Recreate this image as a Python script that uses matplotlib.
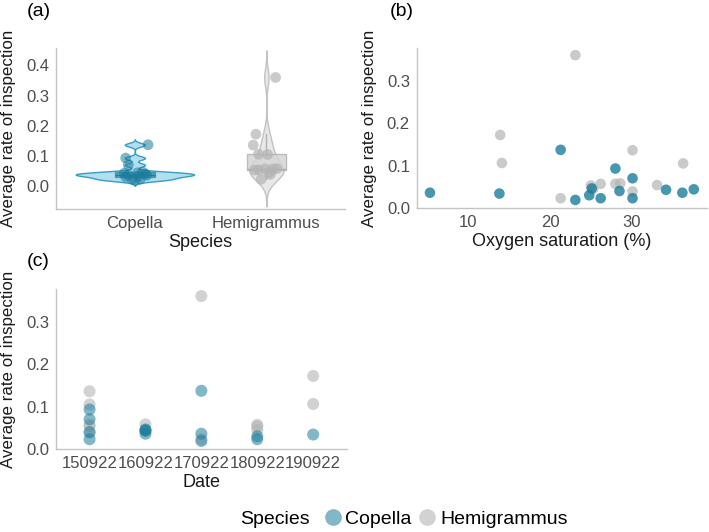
import numpy as np
import matplotlib
matplotlib.use("Agg")
import matplotlib.pyplot as plt
from matplotlib.lines import Line2D

plt.rcParams['font.family'] = ['Liberation Sans', 'DejaVu Sans']

# data
# Copella
oxygen_cop = [5.3, 13.8, 21.3, 23.1, 24.8, 25.1, 26.2, 28.0, 28.5, 30.1, 30.1, 34.2, 36.2, 37.6]
rate_cop = [0.036, 0.034, 0.137, 0.019, 0.030, 0.046, 0.023, 0.093, 0.040, 0.070, 0.023, 0.043, 0.036, 0.044]
date_cop = ['170922', '190922', '170922', '170922', '180922', '160922', '180922',
            '150922', '150922', '150922', '150922', '160922', '160922', '160922']
jitter_cop = [-0.05, 0.03, 0.10, 0.0, -0.07, 0.06, -0.02, -0.07, 0.08, -0.05, 0.04, -0.08, 0.09, 0.02]
# Hemigrammus
oxygen_hem = [13.9, 14.1, 21.3, 23.1, 25.0, 25.3, 26.2, 28.0, 28.6, 30.1, 30.1, 33.1, 36.3]
rate_hem = [0.172, 0.106, 0.023, 0.360, 0.053, 0.045, 0.057, 0.057, 0.058, 0.136, 0.039, 0.054, 0.105]
date_hem = ['190922', '190922', '170922', '170922', '180922', '180922', '180922',
            '150922', '160922', '150922', '150922', '150922', '150922']
jitter_hem = [-0.08, -0.06, -0.04, 0.07, -0.09, 0.02, 0.05, -0.01, 0.08, -0.10, 0.03, -0.06, 0.01]

species = ['Copella', 'Hemigrammus']
dates = ['150922', '160922', '170922', '180922', '190922']

COP = '#1c7c9c'
HEM = '#b4b4b4'
TICK_C = '#4d4d4d'
SPINE_C = '#c4c4c4'


def kde(vals, bw, grid):
    vals = np.asarray(vals)
    z = (grid[:, None] - vals[None, :]) / bw
    return np.exp(-0.5 * z ** 2).sum(1) / (len(vals) * bw * np.sqrt(2 * np.pi))


def style(ax):
    for s in ['top', 'right']:
        ax.spines[s].set_visible(False)
    for s in ['left', 'bottom']:
        ax.spines[s].set_color(SPINE_C)
        ax.spines[s].set_linewidth(1.0)
    ax.tick_params(length=0, labelsize=12, labelcolor=TICK_C, pad=5)
    ax.set_ylabel('Average rate of inspection', fontsize=12.2, color='#1a1a1a', labelpad=7)


fig = plt.figure(figsize=(7.09, 5.32), dpi=100)
ax_a = fig.add_axes([0.079, 0.607, 0.408, 0.303])
ax_b = fig.add_axes([0.588, 0.609, 0.409, 0.301])
ax_c = fig.add_axes([0.079, 0.156, 0.410, 0.301])

# (a) violins + boxes + jittered points
bws = [0.006, 0.030]
groups = [rate_cop, rate_hem]
fills = [('#a9dcee', '#2596bd'), ('#e6e6e6', '#bdbdbd')]
dens = []
grids = []
for vals, bw in zip(groups, bws):
    g = np.linspace(min(vals) - 3 * bw, max(vals) + 3 * bw, 512)
    grids.append(g)
    dens.append(kde(vals, bw, g))
k = 0.45 / dens[0].max()
for i, (g, d) in enumerate(zip(grids, dens)):
    xc = i + 1
    fc, ec = fills[i]
    ax_a.fill_betweenx(g, xc - d * k, xc + d * k, facecolor=fc, edgecolor=ec,
                       linewidth=1.0, alpha=0.9, zorder=1)

bp = ax_a.boxplot(groups, positions=[1, 2], widths=0.3, patch_artist=True,
                  showfliers=False, showcaps=False, zorder=2)
box_cols = [('#1c7c9c', '#1c7c9c'), ('#d4d4d4', '#b0b0b0')]
for i, patch in enumerate(bp['boxes']):
    patch.set_facecolor(box_cols[i][0])
    patch.set_alpha(0.6 if i == 0 else 0.8)
    patch.set_edgecolor(box_cols[i][1])
for i, line in enumerate(bp['medians']):
    line.set_color(box_cols[i][1])
for i, line in enumerate(bp['whiskers']):
    line.set_color(box_cols[i // 2][1])

ax_a.scatter(np.array(jitter_cop) + 1, rate_cop, s=60, color=COP, alpha=0.55,
             edgecolors='none', zorder=3)
ax_a.scatter(np.array(jitter_hem) + 2, rate_hem, s=60, color=HEM, alpha=0.7,
             edgecolors='none', zorder=3)
ax_a.set_xlim(0.4, 2.6)
ax_a.set_ylim(-0.076, 0.458)
ax_a.set_xticks([1, 2])
ax_a.set_xticklabels(species)
ax_a.set_yticks([0.0, 0.1, 0.2, 0.3, 0.4])
ax_a.set_xlabel('Species', fontsize=13, color='#1a1a1a', labelpad=2)
style(ax_a)

# (b) oxygen saturation
ax_b.scatter(oxygen_hem, rate_hem, s=58, color=HEM, alpha=0.7, edgecolors='none')
ax_b.scatter(oxygen_cop, rate_cop, s=58, color=COP, alpha=0.8, edgecolors='none')
ax_b.set_xlim(3.7, 39.2)
ax_b.set_ylim(0.002, 0.377)
ax_b.set_xticks([10, 20, 30])
ax_b.set_yticks([0.0, 0.1, 0.2, 0.3])
ax_b.set_xlabel('Oxygen saturation (%)', fontsize=13, color='#1a1a1a', labelpad=2)
style(ax_b)

# (c) date
pos = {d: i + 1 for i, d in enumerate(dates)}
ax_c.scatter([pos[d] for d in date_hem], rate_hem, s=75, color=HEM, alpha=0.6, edgecolors='none')
ax_c.scatter([pos[d] for d in date_cop], rate_cop, s=75, color=COP, alpha=0.55, edgecolors='none')
ax_c.set_xlim(0.4, 5.6)
ax_c.set_ylim(0.002, 0.377)
ax_c.set_xticks(range(1, 6))
ax_c.set_xticklabels(dates)
ax_c.set_yticks([0.0, 0.1, 0.2, 0.3])
ax_c.set_xlabel('Date', fontsize=13, color='#1a1a1a', labelpad=2)
style(ax_c)

# panel labels
fig.text(27 / 709, 1 - 12 / 532, '(a)', fontsize=14, va='center', ha='left')
fig.text(390 / 709, 1 - 12 / 532, '(b)', fontsize=14, va='center', ha='left')
fig.text(27 / 709, 1 - 262 / 532, '(c)', fontsize=14, va='center', ha='left')

# legend
fig.text(240 / 709, 1 - 519 / 532, 'Species', fontsize=14, va='center', ha='left')
handles = [Line2D([], [], marker='o', linestyle='none', markersize=12,
                  markerfacecolor=COP, markeredgecolor='none', alpha=0.55),
           Line2D([], [], marker='o', linestyle='none', markersize=12,
                  markerfacecolor=HEM, markeredgecolor='none', alpha=0.6)]
fig.legend(handles, species, loc='center left', bbox_to_anchor=(325 / 709, 1 - 519 / 532),
           ncol=2, frameon=False, fontsize=14, handletextpad=0.25, columnspacing=0.4,
           handlelength=0.8, borderaxespad=0, borderpad=0)

fig.savefig('out.png', dpi=100)
